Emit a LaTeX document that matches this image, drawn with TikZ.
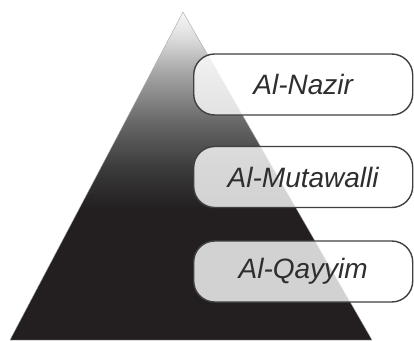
\documentclass[tikz,border=0pt]{standalone}
\usepackage{fontspec}
\setmainfont{Liberation Sans}
\definecolor{pdark}{HTML}{231F20}
\definecolor{pd2}{HTML}{3A3A3A}
\definecolor{pmid}{HTML}{666666}
\definecolor{plight}{HTML}{A8A8A8}
\definecolor{pl2}{HTML}{DCDCDC}
\definecolor{ptop}{HTML}{F8F8F8}
\definecolor{boxline}{HTML}{404040}
\definecolor{txt}{HTML}{2E2E2E}
\pgfdeclareverticalshading{pyrshade}{100bp}{color(0bp)=(pdark); color(25bp)=(pdark); color(45bp)=(pdark); color(51bp)=(pd2); color(58bp)=(pmid); color(66bp)=(plight); color(71bp)=(pl2); color(75bp)=(ptop); color(100bp)=(ptop)}
\tikzset{
  levelbox/.style={draw=boxline, line width=1.4pt, fill=white, fill opacity=0.8, text opacity=1,
    rounded corners=21pt, minimum width=219pt, minimum height=61pt, inner sep=0pt,
    font=\fontsize{28}{30}\selectfont\itshape, text=txt},
}
\begin{document}
\begin{tikzpicture}[x=1pt,y=1pt]
\useasboundingbox (0,0) rectangle (414,340);
\coordinate (apex) at (183,328);
\coordinate (bl) at (10,0);
\coordinate (br) at (372,0);
\shade[shading=pyrshade, draw=gray!70, line width=0.4pt] (apex) -- (br) -- (bl) -- cycle;
\node[levelbox] (nazir) at (303.2,255.5) {Al-Nazir};
\node[levelbox] (mutawalli) at (303.2,163) {Al-Mutawalli};
\node[levelbox] (qayyim) at (303.2,68.5) {Al-Qayyim};
\end{tikzpicture}
\end{document}
